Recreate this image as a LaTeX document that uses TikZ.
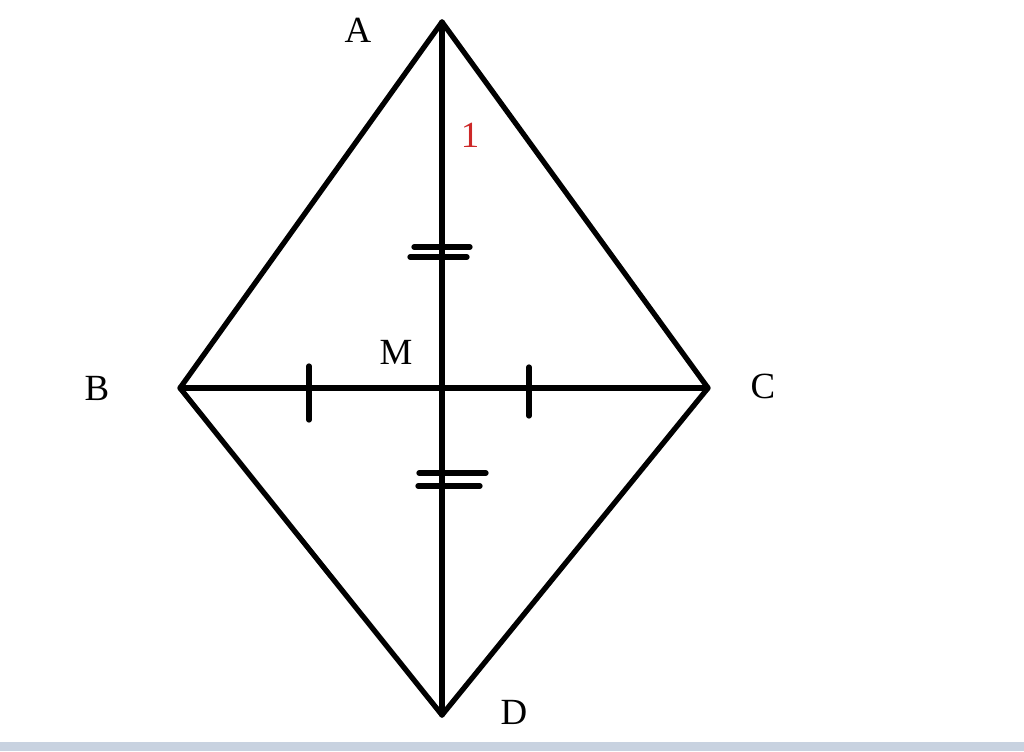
\documentclass[tikz,border=0pt]{standalone}
\usepackage{fontspec}
\setmainfont{Liberation Serif}
\usetikzlibrary{calc}
\definecolor{stripgray}{RGB}{200,210,224}
\definecolor{markred}{RGB}{205,40,40}

\begin{document}
\begin{tikzpicture}[x=0.02cm,y=-0.02cm,
    seg/.style={line width=3pt,line cap=round,line join=round},
    lbl/.style={font=\fontsize{21}{25}\selectfont}]
      \useasboundingbox (0,0) rectangle (1024,751);
      \fill[white] (0,0) rectangle (1024,751);
      \fill[stripgray] (0,742) rectangle (1024,751);
      \coordinate (A) at (442,22);
      \coordinate (B) at (180,388);
      \coordinate (C) at (708,388);
      \coordinate (D) at (442,715);
      \coordinate (M) at (442,388);
      \draw[seg] (A) -- (B) -- (D) -- (C) -- cycle;
      \draw[seg] (A) -- (D);
      \draw[seg] (B) -- (C);
      % ticks
      \draw[seg] (309,366) -- (309,420);
      \draw[seg] (529,367) -- (529,416);
      \draw[seg] (414,247) -- (470,247);
      \draw[seg] (410,257) -- (467,257);
      \draw[seg] (419,473) -- (486,473);
      \draw[seg] (418,486) -- (480,486);
      % labels
      \node[lbl] (labA) at (358,30) {A};
      \node[lbl] (labB) at (97,388) {B};
      \node[lbl] (labC) at (763,386) {C};
      \node[lbl] (labD) at (514,712) {D};
      \node[lbl] (labM) at (396,352) {M};
      \node[lbl,text=markred] (one) at (470,135) {1};
\end{tikzpicture}
\end{document}
